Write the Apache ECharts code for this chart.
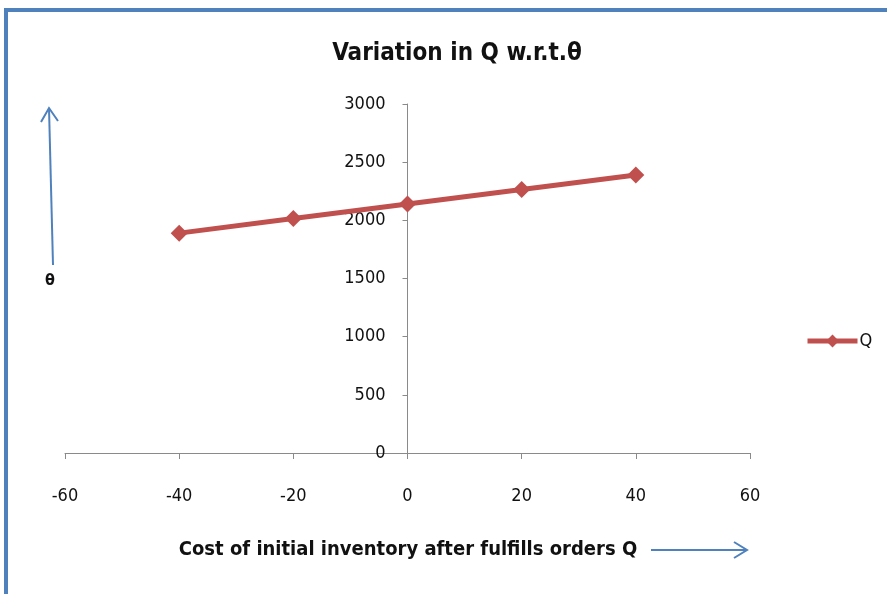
<!DOCTYPE html>
<html>
<head>
<meta charset="utf-8">
<script src="https://cdn.jsdelivr.net/npm/echarts@6/dist/echarts.min.js"></script>
<style>
  html, body { margin: 0; padding: 0; background: #fff; }
  #chart { width: 887px; height: 594px; }
</style>
</head>
<body>
<div id="chart"></div>
<script>
// Change in theta (x) and resulting Q (y)
const thetaValues = [-40, -20, 0, 20, 40];
const qValues = [1890, 2015, 2140, 2265, 2390];
const xTicks = [-60, -40, -20, 0, 20, 40, 60];
const yTicks = [0, 500, 1000, 1500, 2000, 2500, 3000];

const narrow = '"Liberation Sans Narrow", "DejaVu Sans Condensed", "Open Sans", sans-serif';
const arrowBlue = '#4f81bd';
const axisGrey = '#8a8a8a';

const gridLeft = 65, gridRight = 137;
// y axis sits on x = 0, which lies halfway across the plot
const plotWidth = 887 - gridLeft - gridRight;
const yAxisShift = plotWidth * (0 - xTicks[0]) / (xTicks[xTicks.length - 1] - xTicks[0]);

const chart = echarts.init(document.getElementById('chart'), null, { renderer: 'canvas' });

chart.setOption({
  animation: false,
  backgroundColor: '#fff',
  title: {
    text: 'Variation in Q w.r.t.θ',
    left: 452, top: 37, textAlign: 'center',
    textStyle: { fontFamily: narrow, fontWeight: 'bold', fontSize: 24, color: '#111' }
  },
  legend: {
    left: 800, top: 327,
    itemWidth: 50, itemHeight: 16, itemGap: 4,
    lineStyle: { width: 5 },
    textStyle: { fontFamily: narrow, fontSize: 18, color: '#111', padding: [0, 0, 0, -3] },
    data: ['Q']
  },
  grid: { left: gridLeft, right: gridRight, top: 104, bottom: 141, containLabel: false },
  xAxis: {
    type: 'value',
    min: xTicks[0], max: xTicks[xTicks.length - 1], interval: 20,
    axisLine: { onZero: true, lineStyle: { color: axisGrey, width: 1 } },
    axisTick: { show: true, length: 6, lineStyle: { color: axisGrey } },
    axisLabel: { margin: 34, fontFamily: narrow, fontSize: 18, color: '#111', formatter: v => String(v) },
    splitLine: { show: false }
  },
  yAxis: {
    type: 'value',
    position: 'left',
    offset: -yAxisShift,
    min: yTicks[0], max: yTicks[yTicks.length - 1], interval: 500,
    axisLine: { show: true, onZero: false, lineStyle: { color: axisGrey, width: 1 } },
    axisTick: { show: true, length: 5, lineStyle: { color: axisGrey } },
    axisLabel: { margin: 22, fontFamily: narrow, fontSize: 18, color: '#111', formatter: v => String(v) },
    splitLine: { show: false }
  },
  series: [{
    name: 'Q',
    type: 'line',
    data: thetaValues.map((t, i) => [t, qValues[i]]),
    symbol: 'diamond',
    symbolSize: 17,
    lineStyle: { color: '#c0504d', width: 5 },
    itemStyle: { color: '#c0504d' }
  }],
  graphic: [
    // outer frame
    { type: 'rect', shape: { x: 6, y: 10, width: 900, height: 600 },
      style: { fill: 'none', stroke: arrowBlue, lineWidth: 4 }, silent: true },
    // vertical arrow beside the theta label
    { type: 'line', shape: { x1: 53, y1: 265, x2: 49, y2: 108 },
      style: { stroke: arrowBlue, lineWidth: 2 } },
    { type: 'polyline', shape: { points: [[41, 122], [49, 108], [58, 121]] },
      style: { stroke: arrowBlue, lineWidth: 2, fill: 'none' } },
    { type: 'text', x: 50, y: 281,
      style: { text: 'θ', font: 'bold 16px ' + narrow, fill: '#111', align: 'center', verticalAlign: 'middle' } },
    // horizontal axis caption and arrow
    { type: 'text', x: 408, y: 550,
      style: { text: 'Cost of initial inventory after fulfills orders Q', font: 'bold 20px ' + narrow,
               fill: '#111', align: 'center', verticalAlign: 'middle' } },
    { type: 'line', shape: { x1: 651, y1: 550, x2: 747, y2: 550 },
      style: { stroke: arrowBlue, lineWidth: 2 } },
    { type: 'polyline', shape: { points: [[734, 542], [747, 550], [734, 558]] },
      style: { stroke: arrowBlue, lineWidth: 2, fill: 'none' } }
  ]
});
</script>
</body>
</html>
